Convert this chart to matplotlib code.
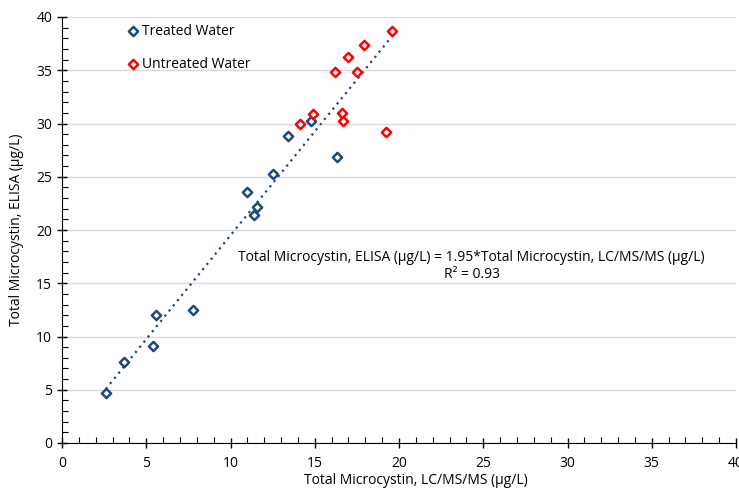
import matplotlib.pyplot as plt
import numpy as np
from matplotlib.ticker import MultipleLocator

plt.rcParams['font.family'] = ['Open Sans', 'DejaVu Sans']

# Treated water samples
treated_x = [2.6, 3.7, 5.4, 5.6, 7.8, 11.0, 11.4, 11.6, 12.5, 13.4, 14.8, 16.3]
treated_y = [4.7, 7.6, 9.1, 12.0, 12.5, 23.6, 21.4, 22.2, 25.3, 28.8, 30.2, 26.9]

# Untreated water samples
untreated_x = [14.1, 14.9, 16.6, 16.7, 19.2, 16.2, 17.5, 17.0, 17.9, 19.6]
untreated_y = [30.0, 30.9, 31.0, 30.2, 29.2, 34.8, 34.8, 36.2, 37.4, 38.7]

slope = 1.95
r2 = 0.93

blue = '#1f497d'
red = '#ff0000'

fig = plt.figure(figsize=(7.39, 4.91), dpi=100)
ax = fig.add_axes([62/739, 48/491, 674/739, 426/491])

all_x = np.array(treated_x + untreated_x)
xs = np.linspace(all_x.min(), all_x.max(), 50)
ax.plot(xs, slope * xs, ls=(0, (1, 2)), color=blue, lw=1.6, zorder=2)

ax.scatter(treated_x, treated_y, marker='D', s=22, facecolor='white',
           edgecolor=blue, linewidth=1.8, zorder=3, label='Treated Water')
ax.scatter(untreated_x, untreated_y, marker='D', s=22, facecolor='white',
           edgecolor=red, linewidth=1.8, zorder=3, label='Untreated Water')

ax.set_xlim(0, 40)
ax.set_ylim(0, 40)
ax.xaxis.set_major_locator(MultipleLocator(5))
ax.yaxis.set_major_locator(MultipleLocator(5))
ax.xaxis.set_minor_locator(MultipleLocator(1))
ax.yaxis.set_minor_locator(MultipleLocator(1))
ax.tick_params(which='major', direction='inout', length=7, width=1, labelsize=10)
ax.tick_params(which='minor', direction='in', length=4, width=0.8)
ax.tick_params(axis='x', pad=6)

ax.grid(axis='y', which='major', color='#d9d9d9', lw=1)
ax.set_axisbelow(True)
for s in ['top', 'right']:
    ax.spines[s].set_visible(False)

ax.set_xlabel('Total Microcystin, LC/MS/MS (µg/L)', fontsize=10)
ax.set_ylabel('Total Microcystin, ELISA (µg/L)', fontsize=10)
ax.xaxis.set_label_coords(0.525, -0.07)
ax.yaxis.set_label_coords(-0.056, 0.5)

ax.text(0.608, 0.416,
        f'Total Microcystin, ELISA (µg/L) = {slope}*Total Microcystin, LC/MS/MS (µg/L)\nR² = {r2}',
        transform=ax.transAxes, ha='center', va='center', fontsize=10,
        linespacing=1.2)

ax.legend(loc='upper left', bbox_to_anchor=(0.084, 0.997), frameon=False,
          fontsize=10, handlelength=1.2, handletextpad=0.05, labelspacing=1.3,
          borderaxespad=0)

fig.savefig('out.png', dpi=100)
